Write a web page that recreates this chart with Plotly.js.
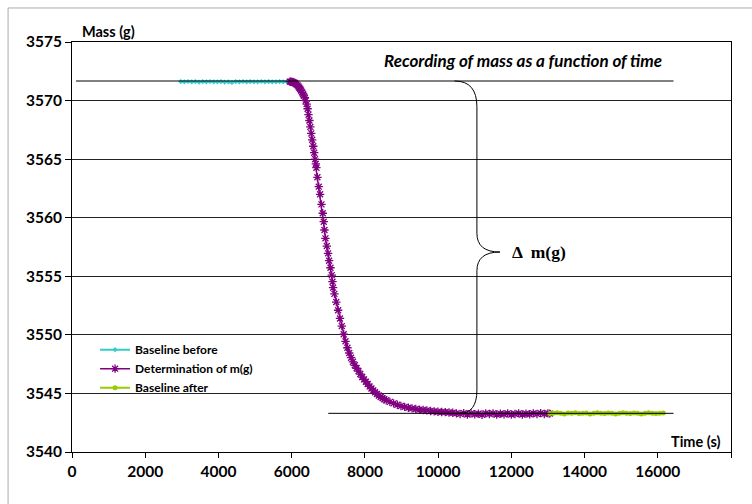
<!DOCTYPE html>
<html>
<head>
<meta charset="utf-8">
<script src="https://cdn.plot.ly/plotly-3.0.1.min.js"></script>
<style>html,body{margin:0;padding:0;background:#fff;}#chart{width:752px;height:504px;}</style>
</head>
<body>
<div id="chart"></div>
<script>
// ---- data ----
const beforeTime = [2970,3070,3170,3270,3370,3470,3570,3670,3770,3870,3970,4070,4170,4270,4370,4470,4570,4670,4770,4870,4970,5070,5170,5270,5370,5470,5570,5670,5770,5870,5950];
const beforeMass = [3571.62,3571.6,3571.63,3571.6,3571.62,3571.58,3571.62,3571.6,3571.63,3571.6,3571.6,3571.62,3571.58,3571.6,3571.55,3571.62,3571.6,3571.63,3571.6,3571.62,3571.6,3571.6,3571.63,3571.6,3571.62,3571.6,3571.6,3571.62,3571.6,3571.62,3571.62];

const detTime = [5950,5975,6000,6025,6055,6080,6105,6130,6160,6185,6210,6235,6260,6285,6310,6335,6360,6385,6410,6435,6460,6485,6510,6535,6560,6590,6615,6640,6660,
  6676,6703,6740,6777,6814,6849,6876,6896,6923,6960,6995,7022,7060,7096,7115,7131,
  7168,7218,7269,7320,7370,7421,7471,7522,7572,7623,7673,7724,7774,7825,7875,7926,7976,8027,8077,8128,8178,8229,8279,8330,8380,8431,8480,8531,8582,
  8683,8784,8885,8985,9086,9187,9288,9389,9490,9591,9692,9793,9894,9995,10096,10197,10298,10399,
  10500,10600,10700,10800,10900,11000,11100,11200,11300,11400,11500,11600,11700,11800,11900,12000,12100,12200,12300,12400,12500,12600,12700,12800,12900,13000,13050];
const detMass = [3571.62,3571.61,3571.6,3571.58,3571.55,3571.5,3571.45,3571.38,3571.3,3571.2,3571.1,3570.98,3570.85,3570.7,3570.55,3570.4,3570.25,3570.0,3569.7,3569.3,3568.8,3568.3,3567.75,3567.2,3566.65,3566.1,3565.55,3565.0,3564.6,
  3564.27,3563.45,3562.65,3562.0,3561.14,3560.38,3559.66,3558.95,3558.24,3557.58,3556.96,3556.33,3555.73,3555.1,3554.54,3554.03,
  3553.5,3552.8,3552.1,3551.4,3550.75,3550.05,3549.45,3548.9,3548.45,3548.05,3547.7,3547.4,3547.15,3546.9,3546.65,3546.4,3546.2,3546.0,3545.8,3545.6,3545.42,3545.25,3545.1,3544.95,3544.82,3544.7,3544.6,3544.5,3544.42,
  3544.28,3544.15,3544.03,3543.93,3543.85,3543.78,3543.72,3543.67,3543.62,3543.58,3543.55,3543.5,3543.47,3543.44,3543.42,3543.4,3543.37,3543.35,
  3543.3,3543.25,3543.32,3543.2,3543.3,3543.22,3543.28,3543.18,3543.3,3543.25,3543.3,3543.2,3543.28,3543.22,3543.3,3543.2,3543.25,3543.3,3543.2,3543.28,3543.22,3543.3,3543.25,3543.32,3543.25,3543.3,3543.28];

const afterTime = [13050,13150,13250,13350,13450,13550,13650,13750,13850,13950,14050,14150,14250,14350,14450,14550,14650,14750,14850,14950,15050,15150,15250,15350,15450,15550,15650,15750,15850,15950,16050,16150];
const afterMass = [3543.28,3543.3,3543.35,3543.3,3543.25,3543.32,3543.3,3543.35,3543.28,3543.3,3543.33,3543.25,3543.3,3543.35,3543.3,3543.28,3543.32,3543.3,3543.25,3543.3,3543.35,3543.3,3543.28,3543.33,3543.3,3543.25,3543.3,3543.35,3543.3,3543.28,3543.3,3543.32];

const seriesNames = ["Baseline before","Determination of m(g)","Baseline after"];
const seriesColors = ["#33CCCC","#800080","#99CC00"];

// reference levels and brace
const topLevel = 3571.67;
const bottomLevel = 3543.3;
const topLineX = [110, 16430];
const bottomLineX = [7000, 16430];
const braceX = 11060;
const braceTipX = 11690;
const braceTipY = 3557.07;

const xTicks = [0,2000,4000,6000,8000,10000,12000,14000,16000,18000];
const yTicks = [3540,3545,3550,3555,3560,3565,3570,3575];

const traces = [
  {x: beforeTime, y: beforeMass, name: seriesNames[0], mode: "lines+markers",
   line: {color: seriesColors[0], width: 2}, marker: {color: seriesColors[0], size: 4, symbol: "diamond"}},
  {x: detTime, y: detMass, name: seriesNames[1], mode: "lines+markers",
   line: {color: seriesColors[1], width: 1.5}, marker: {color: seriesColors[1], size: 7, symbol: "asterisk-open", line: {color: seriesColors[1], width: 1.3}}},
  {x: afterTime, y: afterMass, name: seriesNames[2], mode: "lines+markers",
   line: {color: seriesColors[2], width: 2}, marker: {color: seriesColors[2], size: 5, symbol: "circle"}}
];

const bracePath =
  "M " + (braceX - 610) + "," + topLevel +
  " Q " + braceX + "," + topLevel + " " + braceX + "," + (topLevel - 2.2) +
  " L " + braceX + "," + (braceTipY + 1.6) +
  " Q " + braceX + "," + braceTipY + " " + braceTipX + "," + braceTipY +
  " Q " + braceX + "," + braceTipY + " " + braceX + "," + (braceTipY - 1.6) +
  " L " + braceX + "," + (bottomLevel + 2.0) +
  " Q " + braceX + "," + bottomLevel + " " + (braceX - 470) + "," + bottomLevel;

const layout = {
  width: 752, height: 504,
  margin: {l: 72, r: 21, t: 42, b: 52},
  paper_bgcolor: "#fff", plot_bgcolor: "#fff",
  font: {family: "Lato, 'Open Sans', sans-serif", color: "#000"},
  showlegend: true,
  legend: {x: 0.035, y: 0.285, xanchor: "left", yanchor: "top", bgcolor: "rgba(0,0,0,0)",
           font: {family: "Lato", size: 12, color: "#000", weight: "bold"}, tracegroupgap: 0, itemwidth: 30},
  xaxis: {range: [0, 18000], tickvals: xTicks, ticktext: xTicks.map(String), showgrid: false, zeroline: false,
          showline: true, linecolor: "#000", linewidth: 1, mirror: true, ticks: "outside", ticklen: 5, tickcolor: "#000",
          tickfont: {family: "Lato", size: 15.5, weight: "bold"}},
  yaxis: {range: [3540, 3575], tickvals: yTicks, ticktext: yTicks.map(String), showgrid: true, gridcolor: "#222", gridwidth: 1,
          zeroline: false, showline: true, linecolor: "#000", linewidth: 1, mirror: true, ticks: "outside", ticklen: 6, tickcolor: "#000",
          tickfont: {family: "Lato", size: 15.5, weight: "bold"}},
  shapes: [
    {type: "line", xref: "x", yref: "y", x0: topLineX[0], x1: topLineX[1], y0: topLevel, y1: topLevel, line: {color: "#000", width: 1}},
    {type: "line", xref: "x", yref: "y", x0: bottomLineX[0], x1: bottomLineX[1], y0: bottomLevel, y1: bottomLevel, line: {color: "#000", width: 1}},
    {type: "path", xref: "x", yref: "y", path: bracePath, line: {color: "#000", width: 1}},
    {type: "line", xref: "paper", yref: "paper", x0: -0.097, x1: -0.097, y0: -0.2, y1: 1.083, line: {color: "#aaa", width: 1}},
    {type: "line", xref: "paper", yref: "paper", x0: -0.097, x1: 1.1, y0: 1.083, y1: 1.083, line: {color: "#aaa", width: 1}}
  ],
  annotations: [
    {text: "Recording of mass as a function of time", xref: "x", yref: "y", x: 16180, y: 3573.4, xanchor: "right", yanchor: "middle",
     showarrow: false, font: {family: "Lato", size: 17, weight: "bold", style: "italic"}},
    {text: "Mass (g)", xref: "x", yref: "paper", x: 230, y: 1.0, xanchor: "left", yanchor: "bottom", showarrow: false,
     font: {family: "Lato", size: 14.5, weight: "bold"}},
    {text: "Time (s)", xref: "x", yref: "y", x: 17780, y: 3540.9, xanchor: "right", yanchor: "middle", showarrow: false,
     font: {family: "Lato", size: 14.5, weight: "bold"}},
    {text: "Δ  m(g)", xref: "x", yref: "y", x: 11950, y: braceTipY, xanchor: "left", yanchor: "middle", showarrow: false,
     font: {family: "Liberation Serif", size: 17.5, weight: "bold"}}
  ]
};

Plotly.newPlot("chart", traces, layout, {displayModeBar: false, staticPlot: true});
</script>
</body>
</html>
